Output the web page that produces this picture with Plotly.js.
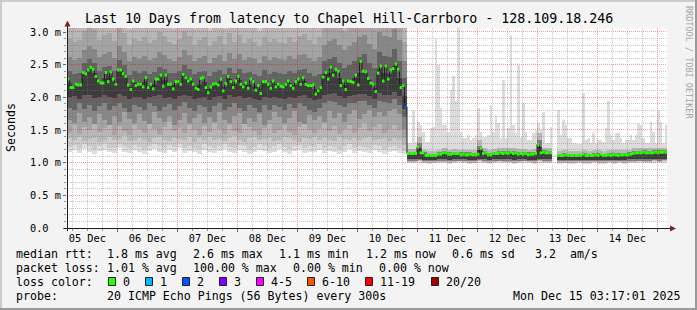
<!DOCTYPE html>
<html><head><meta charset="utf-8">
<script src="https://cdn.plot.ly/plotly-3.0.1.min.js"></script>
<style>html,body{margin:0;padding:0;background:#f3f3f3;}#chart{width:697px;height:310px;}</style>
</head><body><div id="chart"></div>
<script>
// ================= DATA =================
const titleText = 'Last 10 Days from latency to Chapel Hill-Carrboro - 128.109.18.246';
const startUTC = [2025, 11, 5, 3, 53];      // first hourly slot (Dec 5 03:53)
const hoursShown = 240;                      // 10 days, one value per hour

// hourly median RTT in ms (null = no answer)
const medianRtt = [
 2.28,2.15,2.15,2.20,2.19,2.19,2.38,2.36,2.42,2.46, 2.43,2.32,2.25,2.22,2.22,2.38,2.24,2.39,2.28,2.20,
 2.42,2.42,2.36,2.32,2.19,2.12,2.25,2.18,2.20,2.20, 2.16,2.30,2.15,2.20,2.13,2.28,2.28,2.34,2.17,2.34,
 2.20,2.20,2.13,2.24,2.24,2.20,2.35,
 2.30,2.25,2.28,2.20,2.14,2.12,2.29,2.30,2.15,2.07, 2.16,2.20,2.21,2.19,2.28,2.10,2.21,2.32,2.24,2.15,
 2.25,2.32,2.20,2.16,2.22,2.14,2.28,2.24,2.11,2.18, 2.06,2.24,2.24,2.20,2.14,2.25,2.16,2.20,2.17,2.16,
 2.20,2.25,2.18,2.14,2.24,2.28,2.20,
 2.30,2.20,2.18,2.18,2.19,2.05,2.10,2.15,2.31,2.38, 2.28,2.46,2.34,2.43,2.40,2.18,2.25,2.12,2.25,2.24,
 2.23,2.34,2.19,2.55,2.40,2.39,2.29,2.22,2.20,2.09, 2.37,2.48,2.25,2.48,2.28,2.42,2.44,2.51,2.43,2.15,
 2.18,1.86,
 1.14,1.14,1.14,1.14,1.24,1.15,1.15,1.11,1.11,1.11, 1.11,1.11,1.13,1.13,1.15,1.15,1.13,1.13,1.14,1.14,
 1.14,1.12,1.13,1.12,1.12,1.13,1.12,1.12,1.13,1.22, 1.14,1.15,1.12,1.12,1.14,1.14,1.14,1.15,1.14,1.15,
 1.14,1.16,1.14,1.15,1.13,1.14,1.13,1.14,1.12,1.13, 1.13,1.14,1.28,1.15,1.16,1.15,1.15,1.15,null,null,
 1.11,1.11,1.11,1.12,1.11,1.11,1.11,1.11,1.11,1.11, 1.13,1.11,1.11,1.11,1.11,1.12,1.11,1.13,1.11,1.11,
 1.12,1.11,1.12,1.12,1.11,1.12,1.12,1.12,1.12,1.13, 1.14,1.15,1.15,1.15,1.16,1.15,1.15,1.15,1.15,1.16,
 1.15,1.16,1.16,1.16
];
// hours with lost pings (index into medianRtt) and number lost of 20
const lossHours  = [135];
const lossCounts = [2];

// ---- smoke, first part (2-hour bins from hour 0 to 135) ----
const leftBinHours = 2;
const lMin = [1.16,1.19,1.15,1.21,1.17,1.14,1.18,1.20,1.16,1.15, 1.22,1.17,1.15,1.19,1.16,1.14,1.18,1.21,1.17,1.15,
 1.19,1.16,1.22,1.15,1.18,1.16,1.14,1.20,1.17,1.15, 1.18,1.21,1.16,1.15,1.19,1.17,1.14,1.16,1.20,1.18,
 1.15,1.17,1.21,1.16,1.14,1.18,1.19,1.15,1.17,1.16, 1.20,1.15,1.18,1.16,1.14,1.17,1.21,1.15,1.18,1.16,
 1.15,1.19,1.17,1.14,1.16,1.18,1.15,1.13];
const lP2 = [1.24,1.27,1.22,1.28,1.25,1.21,1.26,1.29,1.23,1.22, 1.29,1.25,1.23,1.27,1.24,1.21,1.26,1.28,1.25,1.22,
 1.27,1.24,1.29,1.22,1.26,1.23,1.21,1.28,1.25,1.22, 1.26,1.29,1.24,1.23,1.27,1.25,1.21,1.24,1.28,1.26,
 1.23,1.25,1.29,1.24,1.21,1.26,1.27,1.23,1.25,1.24, 1.28,1.22,1.26,1.24,1.21,1.25,1.29,1.23,1.26,1.24,
 1.23,1.27,1.25,1.21,1.24,1.26,1.23,1.18];
const lP3 = [1.37,1.34,1.40,1.33,1.36,1.38,1.32,1.35,1.39,1.34, 1.36,1.41,1.33,1.35,1.38,1.34,1.31,1.37,1.40,1.35,
 1.33,1.38,1.36,1.34,1.40,1.32,1.37,1.35,1.39,1.34, 1.36,1.33,1.38,1.41,1.35,1.32,1.37,1.39,1.34,1.36,
 1.38,1.33,1.35,1.40,1.37,1.34,1.32,1.38,1.36,1.39, 1.34,1.37,1.35,1.33,1.39,1.36,1.34,1.38,1.35,1.37,
 1.40,1.34,1.36,1.38,1.33,1.37,1.35,1.27];
const lP4 = [1.46,1.58,1.44,1.55,1.50,1.61,1.47,1.53,1.59,1.43, 1.56,1.49,1.42,1.57,1.52,1.45,1.60,1.51,1.44,1.55,
 1.62,1.48,1.53,1.45,1.58,1.50,1.42,1.56,1.47,1.60, 1.52,1.44,1.58,1.49,1.46,1.61,1.54,1.48,1.42,1.53,
 1.59,1.45,1.50,1.57,1.47,1.43,1.55,1.62,1.50,1.46, 1.52,1.60,1.48,1.56,1.44,1.51,1.58,1.46,1.53,1.61,
 1.48,1.55,1.59,1.45,1.52,1.57,1.50,1.38];
const lP5 = [1.66,1.60,1.76,1.62,1.70,1.59,1.74,1.65,1.58,1.72, 1.62,1.78,1.67,1.61,1.75,1.64,1.59,1.77,1.68,1.62,
 1.71,1.58,1.65,1.76,1.61,1.69,1.74,1.60,1.70,1.63, 1.78,1.66,1.60,1.71,1.76,1.59,1.68,1.62,1.74,1.58,
 1.65,1.77,1.70,1.61,1.68,1.79,1.63,1.59,1.73,1.66, 1.71,1.62,1.79,1.69,1.76,1.63,1.74,1.80,1.67,1.75,
 1.81,1.70,1.77,1.72,1.79,1.82,1.74,1.52];
const lP6 = [1.84,1.80,1.91,1.82,1.89,1.79,1.87,1.92,1.81,1.86, 1.91,1.83,1.78,1.89,1.85,1.80,1.92,1.87,1.79,1.85,
 1.90,1.81,1.87,1.93,1.83,1.79,1.89,1.85,1.78,1.87, 1.91,1.81,1.85,1.92,1.83,1.79,1.88,1.84,1.78,1.89,
 1.81,1.88,1.85,1.80,1.90,1.83,1.91,1.87,1.81,1.78, 1.84,1.92,1.94,1.93,1.89,1.85,1.91,1.92,1.95,1.94,
 1.88,1.84,1.95,1.93,1.91,1.97,1.89,1.70];
const lP7 = [2.00,2.02,1.98,2.04,2.03,1.99,2.01,2.03,2.00,1.99, 2.05,2.02,1.97,2.01,2.00,1.98,2.00,2.02,2.03,1.99,
 2.00,1.98,2.02,2.03,2.02,1.98,1.99,2.01,1.96,2.00, 2.02,1.98,2.03,2.00,2.02,1.99,2.00,1.98,1.96,2.01,
 1.99,2.00,1.99,1.98,2.01,1.99,2.02,2.03,1.99,1.96, 1.97,2.04,2.05,2.06,2.02,1.99,2.02,2.03,2.05,2.05,
 2.02,1.98,2.06,2.04,2.04,2.08,2.02,1.82];
const lQ7 = [2.22,2.18,2.19,2.37,2.44,2.38,2.24,2.30,2.32,2.24, 2.42,2.34,2.16,2.22,2.20,2.23,2.18,2.21,2.31,2.26,
 2.20,2.19,2.22,2.33,2.27,2.17,2.21,2.23,2.12,2.21, 2.24,2.16,2.28,2.20,2.26,2.19,2.21,2.18,2.12,2.24,
 2.17,2.21,2.19,2.18,2.22,2.19,2.24,2.25,2.18,2.12, 2.13,2.35,2.37,2.39,2.29,2.19,2.25,2.29,2.37,2.40,
 2.26,2.15,2.43,2.37,2.35,2.48,2.29,2.02];
const lQ6 = [2.40,2.36,2.38,2.52,2.58,2.53,2.40,2.46,2.48,2.41, 2.57,2.50,2.34,2.40,2.38,2.41,2.36,2.39,2.47,2.43,
 2.38,2.37,2.40,2.49,2.44,2.35,2.39,2.41,2.32,2.39, 2.42,2.35,2.45,2.38,2.43,2.37,2.39,2.36,2.32,2.42,
 2.36,2.39,2.37,2.36,2.40,2.37,2.42,2.43,2.37,2.33, 2.36,2.55,2.58,2.62,2.52,2.45,2.50,2.55,2.62,2.66,
 2.52,2.45,2.70,2.64,2.62,2.74,2.56,2.30];
const lQ5 = [2.62,2.57,2.60,2.72,2.78,2.74,2.61,2.67,2.69,2.60, 2.78,2.70,2.55,2.62,2.59,2.63,2.57,2.60,2.70,2.65,
 2.58,2.56,2.62,2.72,2.65,2.55,2.60,2.63,2.52,2.60, 2.65,2.55,2.68,2.58,2.66,2.57,2.62,2.58,2.52,2.64,
 2.57,2.62,2.58,2.57,2.63,2.58,2.65,2.67,2.60,2.55, 2.62,2.80,2.86,2.90,2.80,2.72,2.78,2.84,2.92,2.96,
 2.82,2.74,3.00,2.94,2.92,3.05,2.88,2.55];
const lQ4 = [2.90,2.84,2.88,3.02,3.10,3.04,2.88,2.96,2.98,2.86, 3.08,2.98,2.80,2.90,2.86,2.92,2.83,2.88,3.00,2.94,
 2.85,2.82,2.90,3.02,2.94,2.80,2.88,2.92,2.78,2.86, 2.94,2.81,2.98,2.85,2.96,2.83,2.90,2.85,2.78,2.92,
 2.84,2.90,2.85,2.83,2.92,2.85,2.94,2.97,2.88,2.82, 2.92,3.10,3.18,3.22,3.10,3.02,3.08,3.15,3.25,3.30,
 3.12,3.04,3.35,3.26,3.22,3.40,3.18,2.85];
const lQ3 = [3.15,3.08,3.12,3.30,3.40,3.32,3.12,3.22,3.25,3.10, 3.36,3.24,3.04,3.14,3.10,3.16,3.06,3.12,3.28,3.18,
 3.09,3.05,3.14,3.30,3.18,3.04,3.12,3.16,3.02,3.10, 3.18,3.05,3.25,3.09,3.22,3.07,3.14,3.09,3.02,3.16,
 3.08,3.14,3.09,3.07,3.16,3.09,3.18,3.22,3.12,3.06, 3.16,3.40,3.50,3.55,3.40,3.30,3.38,3.45,3.60,3.65,
 3.42,3.32,3.70,3.60,3.55,3.75,3.50,3.10];
const lMax = [3.8,3.6,3.7,4.1,4.3,4.0,3.7,3.9,4.0,3.6, 4.2,3.9,3.5,3.7,3.6,3.8,3.5,3.7,4.0,3.8,
 3.6,3.5,3.7,4.1,3.8,3.5,3.7,3.8,3.4,3.6, 3.8,3.5,3.9,3.6,3.9,3.5,3.7,3.6,3.4,3.8,
 3.5,3.7,3.6,3.5,3.8,3.6,3.8,3.9,3.7,3.5, 3.8,4.3,4.5,4.6,4.3,4.1,4.2,4.4,4.7,4.8,
 4.4,4.2,4.9,4.7,4.6,5.0,4.5,3.9];

// ---- smoke, second part (from hour 136) ----
const rightStartHour = 136;
const rightBinHours = 2;
const rMin = [1.00,0.99,1.00,0.99,0.98,0.99,1.00,0.99,0.98,0.99, 1.00,0.99,0.98,0.99,1.00,0.99,0.98,0.99,1.00,0.99,
 0.99,0.98,0.99,1.00,0.99,0.98,1.00,0.99,0.99,null, 0.98,0.99,0.98,0.98,0.99,0.98,0.98,0.99,0.98,0.98,
 0.99,0.98,0.99,0.98,0.99,0.99,1.00,0.99,0.99,1.00, 0.99,1.00];
const rP3 = [1.01,1.01,1.02,1.00,1.00,1.00,1.01,1.01,1.00,1.01, 1.02,1.01,1.00,1.00,1.02,1.01,1.00,1.01,1.02,1.01,
 1.01,1.00,1.01,1.02,1.01,1.00,1.02,1.01,1.01,null, 1.00,1.00,1.00,1.00,1.01,1.00,1.00,1.01,1.00,1.00,
 1.01,1.00,1.01,1.00,1.01,1.01,1.02,1.01,1.01,1.02, 1.01,1.02];
const rP5 = [1.03,1.03,1.04,1.02,1.02,1.02,1.03,1.03,1.02,1.03, 1.03,1.03,1.02,1.02,1.04,1.03,1.02,1.03,1.03,1.03,
 1.03,1.02,1.03,1.03,1.02,1.02,1.04,1.03,1.03,null, 1.02,1.02,1.02,1.02,1.02,1.02,1.02,1.02,1.02,1.02,
 1.02,1.02,1.02,1.02,1.03,1.03,1.03,1.03,1.03,1.04, 1.03,1.04];
const rP7 = [1.05,1.05,1.06,1.04,1.04,1.04,1.05,1.05,1.04,1.05, 1.05,1.05,1.04,1.04,1.06,1.05,1.04,1.05,1.05,1.05,
 1.05,1.04,1.05,1.05,1.04,1.04,1.06,1.05,1.05,null, 1.04,1.04,1.04,1.04,1.04,1.04,1.04,1.04,1.04,1.04,
 1.04,1.04,1.04,1.04,1.05,1.05,1.05,1.05,1.05,1.06, 1.05,1.06];
const rQ7 = [1.14,1.14,1.22,1.13,1.11,1.11,1.13,1.15,1.13,1.14, 1.13,1.13,1.13,1.12,1.19,1.15,1.12,1.14,1.15,1.15,
 1.15,1.15,1.14,1.14,1.13,1.14,1.24,1.16,1.15,null, 1.11,1.12,1.11,1.11,1.11,1.12,1.11,1.12,1.12,1.11,
 1.12,1.12,1.12,1.12,1.13,1.15,1.15,1.16,1.15,1.16, 1.16,1.16];
const rQ5 = [1.17,1.17,1.30,1.16,1.14,1.14,1.16,1.18,1.16,1.17, 1.16,1.16,1.16,1.15,1.26,1.18,1.15,1.17,1.18,1.18,
 1.18,1.18,1.17,1.17,1.16,1.17,1.34,1.19,1.18,null, 1.14,1.15,1.14,1.14,1.14,1.15,1.14,1.15,1.15,1.14,
 1.15,1.15,1.15,1.15,1.16,1.18,1.18,1.19,1.18,1.19, 1.19,1.19];
const rQ3 = [1.21,1.21,1.40,1.20,1.18,1.18,1.20,1.22,1.20,1.21, 1.20,1.20,1.20,1.19,1.34,1.22,1.19,1.21,1.22,1.22,
 1.23,1.22,1.21,1.21,1.20,1.21,1.45,1.23,1.22,null, 1.18,1.19,1.18,1.18,1.18,1.19,1.18,1.19,1.19,1.18,
 1.19,1.19,1.19,1.19,1.20,1.22,1.22,1.23,1.22,1.23, 1.23,1.23];
// hourly highest ping from hour 136
const rMax = [
 1.30,1.30,1.79,1.32,1.63,1.58,1.47,1.32,1.32,1.53, 1.55,2.90,2.49,1.84,1.58,1.58,1.47,2.11,2.32,1.94,
 3.20,1.47,1.37,1.37,1.42,1.35,1.37,1.42,1.84,1.47, 1.40,1.40,1.42,1.88,1.47,1.73,1.60,1.37,2.27,1.37,
 1.53,2.95,1.58,1.45,2.49,1.40,1.92,1.47,1.35,1.35, 1.45,1.50,1.61,1.50,1.78,1.30,1.30,1.55,null,null,
 1.81,1.42,1.65,1.58,1.37,1.37,1.30,1.30,1.28,1.28, 2.06,1.35,1.37,1.30,1.45,1.30,1.35,1.35,1.32,1.53,
 1.95,1.42,1.35,1.45,1.45,1.37,1.30,1.35,1.35,1.42, 1.35,1.42,1.59,1.58,1.37,1.30,1.30,1.63,1.47,1.30,
 1.81,1.63,1.30,1.58];

// axis + legend texts
const yTickVals = [0, 0.5, 1.0, 1.5, 2.0, 2.5, 3.0];
const yTickText = ['0.0\u00a0\u00a0', '0.5 m', '1.0 m', '1.5 m', '2.0 m', '2.5 m', '3.0 m'];
const yTitle = 'Seconds';
const rttLabel = 'median rtt:';
const rttStats = ['1.8 ms avg', '2.6 ms max', '1.1 ms min', '1.2 ms now', '0.6 ms sd', '3.2  am/s'];
const lossLabel = 'packet loss:';
const lossStats = ['1.01 % avg', '100.00 % max', '0.00 % min', '0.00 % now'];
const lossColorLabel = 'loss color:';
const lossNames  = ['0', '1', '2', '3', '4-5', '6-10', '11-19', '20/20'];
const lossUpTo   = [0, 1, 2, 3, 5, 10, 19, 20];
const lossColors = ['#26ff00', '#00b8ff', '#0059ff', '#7e00ff', '#ff00ff', '#ff5500', '#ff0000', '#a10000'];
const probeLabel = 'probe:';
const probeText = '20 ICMP Echo Pings (56 Bytes) every 300s';
const stampText = 'Mon Dec 15 03:17:01 2025';
const watermark = 'RRDTOOL / TOBI OETIKER';

// ================= DRAWING =================
const H = 3600000;
const T0 = Date.UTC.apply(null, startUTC);
const T1 = T0 + hoursShown * H;
const YMAX = 3.0612;
const W = 697, HT = 310, ML = 67, MT = 28, PW = 600, PH = 200;
const FONT = 'DejaVu Sans Mono';
const pX = p => (p - ML) / PW;           // pixel -> paper
const pY = p => (MT + PH - p) / PH;

function bars(startHour, binH, lo, hi, color) {
  const x = [], base = [], y = [];
  for (let i = 0; i < lo.length; i++) {
    const a = lo[i], b = hi[i];
    if (a == null || b == null) continue;
    x.push(T0 + (startHour + (i + 0.5) * binH) * H);
    base.push(a); y.push(b - a);
  }
  return {type: 'bar', x, y, base, width: binH * H, marker: {color, line: {width: 0}},
          hoverinfo: 'skip', showlegend: false};
}
const traces = [];
const leftCol = ['#dddddd', '#cacaca', '#b7b7b7', '#a4a4a4', '#878787', '#626262', '#3c3c3c'];
const leftLo = [lMin, lP2, lP3, lP4, lP5, lP6, lP7];
const leftHi = [lMax, lMax, lQ3, lQ4, lQ5, lQ6, lQ7];
for (let k = 0; k < 7; k++) traces.push(bars(0, leftBinHours, leftLo[k], leftHi[k], leftCol[k]));
// second part: outer layer hourly, inner layers in 2h bins
{
  const x = [], base = [], y = [];
  rMax.forEach((v, i) => {
    const lo = rMin[Math.floor(i / rightBinHours)];
    if (v == null || lo == null) return;
    x.push(T0 + (rightStartHour + i + 0.5) * H); base.push(lo); y.push(v - lo);
  });
  traces.push({type: 'bar', x, y, base, width: H, marker: {color: '#dcdcdc', line: {width: 0}}, hoverinfo: 'skip'});
}
traces.push(bars(rightStartHour, rightBinHours, rP3, rQ3, '#b7b7b7'));
traces.push(bars(rightStartHour, rightBinHours, rP5, rQ5, '#7e7e7e'));
traces.push(bars(rightStartHour, rightBinHours, rP7, rQ7, '#3c3c3c'));

// median connecting line
{
  const x = [], y = [];
  for (let h = 0; h < hoursShown; h++) { x.push(T0 + h * H); y.push(medianRtt[h]); }
  x.push(T1); y.push(medianRtt[hoursShown - 1]);
  traces.push({type: 'scatter', mode: 'lines', x, y, line: {shape: 'hv', color: '#202020', width: 1},
               connectgaps: false, hoverinfo: 'skip'});
}
// loss-coloured median marks
const lost = new Array(hoursShown).fill(0);
lossHours.forEach((h, i) => { lost[h] = lossCounts[i]; });
lossColors.forEach((c, k) => {
  const x = [], y = [];
  for (let h = 0; h < hoursShown; h++) {
    const v = medianRtt[h];
    if (v == null) continue;
    const cat = lossUpTo.findIndex(u => lost[h] <= u);
    if (cat !== k) continue;
    x.push(T0 + h * H, T0 + (h + 1) * H, null); y.push(v, v, null);
  }
  if (x.length) traces.push({type: 'scatter', mode: 'lines', x, y, line: {color: c, width: 3},
                             connectgaps: false, hoverinfo: 'skip'});
});

// ---- shapes: frame, grid on top of data, axes, arrows, legend boxes ----
const shapes = [];
const rect = (x0, y0, x1, y1, fill, line) => shapes.push({type: 'rect', xref: 'paper', yref: 'paper',
  x0: pX(x0), x1: pX(x1), y0: pY(y0), y1: pY(y1), fillcolor: fill,
  line: line ? {color: line, width: 1} : {width: 0}, layer: 'above'});
const seg = (x0, y0, x1, y1, color, dash) => shapes.push({type: 'line', xref: 'paper', yref: 'paper',
  x0: pX(x0), x1: pX(x1), y0: pY(y0), y1: pY(y1), line: {color, width: 1, dash: dash || 'solid'}, layer: 'above'});
const GRID = 'rgba(120,120,120,0.42)', MGRID = 'rgba(230,0,0,0.38)';
const day0 = Date.UTC(2025, 11, 5);
for (let t = day0; t < T1; t += 6 * H) {
  if (t <= T0) continue;
  const col = Math.floor(ML + PW * (t - T0) / (T1 - T0));
  const major = ((t - day0) % (24 * H)) === 0;
  seg(col + 0.5, MT, col + 0.5, MT + PH, major ? MGRID : GRID, '1px,1px');
}
for (let j = 1; j <= 30; j++) {
  const v = j / 10;
  const row = Math.floor(MT + PH * (1 - v / YMAX));
  seg(ML, row + 0.5, ML + PW, row + 0.5, (j % 5 === 0) ? MGRID : GRID, '1px,1px');
}
// axes
seg(67.5, 231, 67.5, 25, '#1f1f1f');
seg(64, 228.5, 671, 228.5, '#1f1f1f');
shapes.push({type: 'path', xref: 'paper', yref: 'paper', layer: 'above',
  path: `M${pX(67.5)},${pY(20.5)} L${pX(64.5)},${pY(26.5)} L${pX(70.5)},${pY(26.5)} Z`,
  fillcolor: '#7f1f1f', line: {width: 0}});
shapes.push({type: 'path', xref: 'paper', yref: 'paper', layer: 'above',
  path: `M${pX(676)},${pY(228.5)} L${pX(670)},${pY(225.5)} L${pX(670)},${pY(231.5)} Z`,
  fillcolor: '#7f1f1f', line: {width: 0}});
// frame
rect(0, 0, W, 2, '#cbcbcb');
rect(0, 0, 2, HT, '#cbcbcb');
rect(0, HT - 2, W, HT, '#9a9a9a');
rect(W - 2, 0, W, HT, '#9a9a9a');
// legend colour boxes
const boxX = [108, 145, 182, 219, 256, 307, 365, 431];
boxX.forEach((bx, k) => rect(bx + 0.5, 277.5, bx + 7.5, 285.5, lossColors[k], '#202020'));

// ---- annotations (texts) ----
const ann = [];
const txt = (text, x, y, opt) => ann.push(Object.assign({text, xref: 'paper', yref: 'paper',
  x: pX(x), y: pY(y), xanchor: 'left', yanchor: 'middle', showarrow: false, borderpad: 0, borderwidth: 0,
  font: {family: FONT, size: 11.6, color: '#000'}}, opt || {}));
txt(titleText, 348.5, 18.5, {xanchor: 'center', font: {family: FONT, size: 13.3, color: '#000'}});
txt(yTitle, 11, 128, {xanchor: 'center', textangle: -90});
txt(watermark, 689, 62, {xanchor: 'center', textangle: 90, font: {family: FONT, size: 8.5, color: '#a4a4a4'}});
const L1 = 254, L2 = 268, L3 = 282, L4 = 296;
txt(rttLabel, 16, L1);
[107.3, 193.3, 279.3, 366, 451.7, 535].forEach((x, i) => txt(rttStats[i], x, L1));
txt(lossLabel, 16, L2);
[107.3, 193.3, 293.3, 379.3].forEach((x, i) => txt(lossStats[i], x, L2));
txt(lossColorLabel, 16, L3);
boxX.forEach((bx, k) => txt(lossNames[k], bx + 15, L3));
txt(probeLabel, 16, L4);
txt(probeText, 107.3, L4);
txt(stampText, 681, L4, {xanchor: 'right'});

const layout = {
  width: W, height: HT, autosize: false,
  margin: {l: ML, r: W - ML - PW, t: MT, b: HT - MT - PH, pad: 0},
  paper_bgcolor: '#f3f3f3', plot_bgcolor: '#ffffff',
  font: {family: FONT, color: '#000', size: 10.3},
  showlegend: false, barmode: 'overlay', bargap: 0, hovermode: false,
  xaxis: {type: 'date', range: [T0, T1], showgrid: false, zeroline: false, showline: false,
    tick0: '2025-12-05', dtick: 86400000, tickformat: '%d %b', ticklabelmode: 'period',
    ticks: 'outside', ticklen: 3, tickcolor: '#666', ticklabelstandoff: -2,
    tickfont: {family: FONT, size: 10.3, color: '#000'},
    minor: {tick0: '2025-12-05', dtick: 6 * H, ticks: 'outside', ticklen: 2, tickcolor: '#999', showgrid: false}},
  yaxis: {range: [0, YMAX], tickmode: 'array', tickvals: yTickVals, ticktext: yTickText,
    showgrid: false, zeroline: false, showline: false, ticks: 'outside', ticklen: 3, tickcolor: '#666',
    tickfont: {family: FONT, size: 10.3, color: '#000'},
    minor: {tickmode: 'linear', tick0: 0, dtick: 0.1, ticks: 'outside', ticklen: 2, tickcolor: '#999', showgrid: false}},
  shapes, annotations: ann
};
Plotly.newPlot('chart', traces, layout, {staticPlot: true, displayModeBar: false});
</script></body></html>
